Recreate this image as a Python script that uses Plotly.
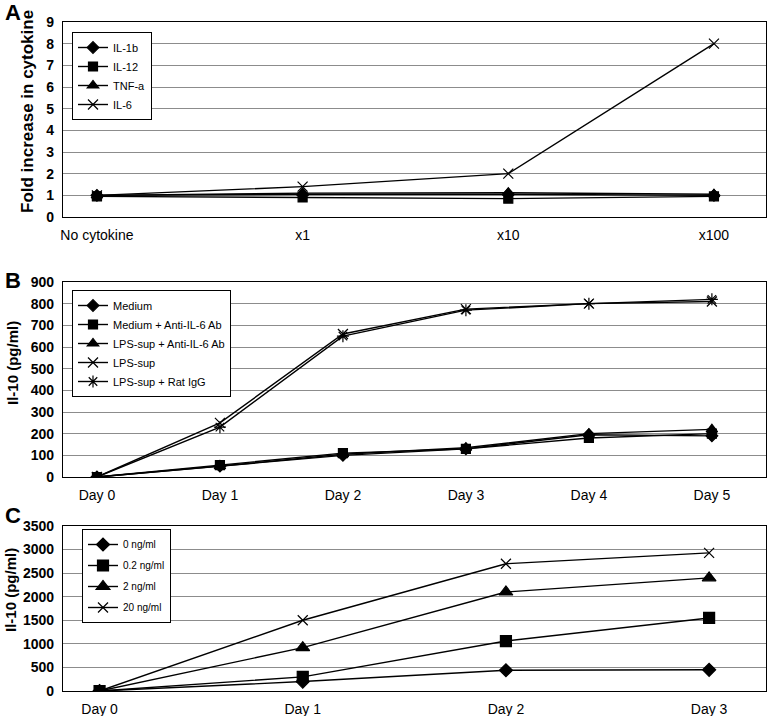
import plotly.graph_objects as go

# ---- Panel A data ----
a_categories = ["No cytokine", "x1", "x10", "x100"]
a_il1b = [1.0, 1.05, 1.05, 1.0]
a_il12 = [0.95, 0.9, 0.85, 0.95]
a_tnfa = [1.0, 1.1, 1.12, 1.05]
a_il6 = [1.0, 1.4, 2.0, 8.0]

# ---- Panel B data ----
b_categories = ["Day 0", "Day 1", "Day 2", "Day 3", "Day 4", "Day 5"]
b_medium = [0, 50, 100, 130, 195, 190]
b_medium_anti = [0, 55, 110, 130, 180, 200]
b_lps_anti = [0, 50, 105, 135, 200, 220]
b_lps = [0, 250, 660, 775, 800, 810]
b_lps_igg = [0, 230, 650, 770, 800, 820]

# ---- Panel C data ----
c_categories = ["Day 0", "Day 1", "Day 2", "Day 3"]
c_0 = [0, 200, 440, 450]
c_02 = [0, 300, 1060, 1550]
c_2 = [0, 920, 2100, 2400]
c_20 = [0, 1500, 2700, 2930]

FONT = "Liberation Sans, Arial, sans-serif"
fig = go.Figure()

def add(x, y, name, symbol, size, xa, ya, legend):
    fig.add_trace(go.Scatter(
        x=x, y=y, name=name, mode="lines+markers", legendgroup=name,
        line=dict(color="black", width=1.4),
        marker=dict(symbol=symbol, size=size, color="black",
                    line=dict(color="black", width=1.2)),
        xaxis=xa, yaxis=ya, legend=legend))

add(a_categories, a_il1b, "IL-1b", "diamond", 9, "x", "y", "legend")
add(a_categories, a_il12, "IL-12", "square", 9, "x", "y", "legend")
add(a_categories, a_tnfa, "TNF-a", "triangle-up", 10, "x", "y", "legend")
add(a_categories, a_il6, "IL-6", "x-thin", 10, "x", "y", "legend")

add(b_categories, b_medium, "Medium", "diamond", 9, "x2", "y2", "legend2")
add(b_categories, b_medium_anti, "Medium + Anti-IL-6 Ab", "square", 9, "x2", "y2", "legend2")
add(b_categories, b_lps_anti, "LPS-sup + Anti-IL-6 Ab", "triangle-up", 10, "x2", "y2", "legend2")
add(b_categories, b_lps, "LPS-sup", "x-thin", 10, "x2", "y2", "legend2")
add(b_categories, b_lps_igg, "LPS-sup + Rat IgG", "asterisk", 10, "x2", "y2", "legend2")

add(c_categories, c_0, "0 ng/ml", "diamond", 10, "x3", "y3", "legend3")
add(c_categories, c_02, "0.2 ng/ml", "square", 11, "x3", "y3", "legend3")
add(c_categories, c_2, "2 ng/ml", "triangle-up", 12, "x3", "y3", "legend3")
add(c_categories, c_20, "20 ng/ml", "x-thin", 10, "x3", "y3", "legend3")

W, H = 767, 716
xdom = [63 / W, 766 / W]

def ydom(top, bottom):
    return [1 - bottom / H, 1 - top / H]

common_x = dict(type="category", showgrid=False, showline=True, linecolor="black",
                linewidth=1.2, mirror=True, ticks="", tickfont=dict(size=14, color="black"),
                domain=xdom, zeroline=False, automargin=False, ticklabelstandoff=5)
common_y = dict(showgrid=True, gridcolor="#8c8c8c", gridwidth=1.2, showline=True,
                linecolor="black", linewidth=1.2, mirror=True, ticks="",
                tickfont=dict(size=14, color="black", weight="bold"),
                zeroline=False, automargin=False, ticklabelstandoff=5)

leg_common = dict(bgcolor="white", bordercolor="black", borderwidth=1,
                  xanchor="left", yanchor="top", itemwidth=30)

fig.update_layout(
    width=W, height=H, margin=dict(l=0, r=0, t=0, b=0, autoexpand=False),
    paper_bgcolor="white", plot_bgcolor="white",
    font=dict(family=FONT, color="black"),
    xaxis=dict(common_x, range=[-0.165, 3.253], anchor="y"),
    yaxis=dict(common_y, range=[0, 9], dtick=1, domain=ydom(22, 217), anchor="x"),
    xaxis2=dict(common_x, range=[-0.276, 5.44], anchor="y2"),
    yaxis2=dict(common_y, range=[0, 900], dtick=100, domain=ydom(282, 477), anchor="x2"),
    xaxis3=dict(common_x, range=[-0.18, 3.28], anchor="y3"),
    yaxis3=dict(common_y, range=[0, 3500], dtick=500, domain=ydom(526, 691), anchor="x3"),
    legend=dict(leg_common, x=72 / W, y=1 - 32 / H, font=dict(size=11, color="black"),
                tracegroupgap=0),
    legend2=dict(leg_common, x=72 / W, y=1 - 290 / H, font=dict(size=11, color="black"),
                 tracegroupgap=0),
    legend3=dict(leg_common, x=82 / W, y=1 - 529 / H, font=dict(size=10, color="black"),
                 tracegroupgap=2),
    showlegend=True,
)

for letter, ypx in [("A", 12), ("B", 281), ("C", 515)]:
    fig.add_annotation(text="<b>%s</b>" % letter, x=3 / W, y=1 - ypx / H, xref="paper", yref="paper",
                       xanchor="left", yanchor="middle", showarrow=False,
                       font=dict(size=22, color="black", family=FONT))

for text, xpx, ypx, size in [("Fold increase in cytokine", 27, 112, 17),
                             ("Il-10 (pg/ml)", 13, 363, 15),
                             ("Il-10 (pg/ml)", 10, 590, 15)]:
    fig.add_annotation(text="<b>%s</b>" % text, x=xpx / W, y=1 - ypx / H, xref="paper", yref="paper",
                       xanchor="center", yanchor="middle", showarrow=False, textangle=-90,
                       font=dict(size=size, color="black", family=FONT))

fig.write_html("out.html", config={"displayModeBar": False},
               post_script="document.body.style.margin='0';document.body.style.overflow='hidden';")
